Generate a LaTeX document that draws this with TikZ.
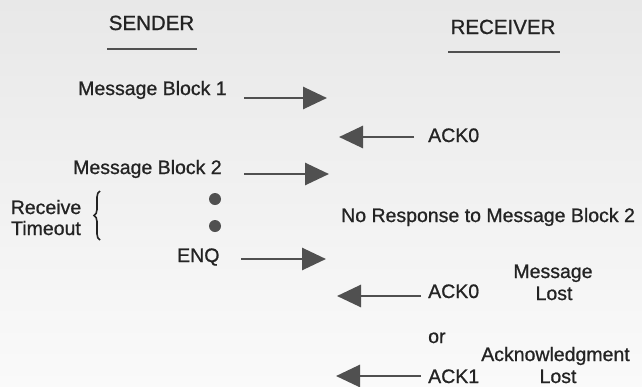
\documentclass[tikz,border=0pt]{standalone}
\usepackage{fontspec}
\setmainfont{Liberation Sans}[FakeBold=0.9]
\usepackage{tikz}
\usetikzlibrary{arrows.meta, positioning, decorations.pathreplacing}
\definecolor{inkgray}{RGB}{35,35,35}
\definecolor{arrowgray}{RGB}{80,80,80}
\definecolor{papertop}{RGB}{232,232,232}
\definecolor{paperbot}{RGB}{250,250,250}
\tikzstyle{heading} = [inner sep=0pt, anchor=base, text=inkgray, font=\fontsize{20.5}{24}\selectfont]
\tikzstyle{msg} = [inner sep=0pt, anchor=base west, text=inkgray, font=\fontsize{19.5}{22}\selectfont]
\tikzstyle{note} = [inner sep=0pt, anchor=base, text=inkgray, font=\fontsize{19.5}{22}\selectfont]
\tikzstyle{underline} = [line width=2.8pt, arrowgray]
\tikzstyle{arrow} = [line width=2.8pt, arrowgray, -{Triangle[length=24pt,width=22pt]}]
\tikzstyle{dot} = [circle, fill=arrowgray, inner sep=0pt, minimum size=12pt]
\tikzstyle{brace} = [line width=1.6pt, inkgray, decorate, decoration={brace, amplitude=6pt}]

\begin{document}
\begin{tikzpicture}[x=1pt, y=-1pt]

\useasboundingbox (0,0) rectangle (642,386);
\shade [top color=papertop, bottom color=paperbot] (0,0) rectangle (642,386);

% Column headings
\node (sender) [heading] at (151.5,30) {SENDER};
\node (receiver) [heading] at (503,34) {RECEIVER};
\draw [underline] (107,49) -- (197,49);
\draw [underline] (448,52) -- (560,52);

% Sender side
\node (mb1) [msg] at (78,95) {Message Block 1};
\node (mb2) [msg] at (73,174) {Message Block 2};
\node (enq) [msg] at (177,262) {ENQ};
\node (dot1) [dot] at (215,199) {};
\node (dot2) [dot] at (215,226) {};
\node (receive) [note] at (46,214) {Receive};
\node (timeout) [note] at (46,235) {Timeout};
\draw [brace] (100,240) -- (100,191);

% Receiver side
\node (ack0a) [msg] at (428,142) {ACK0};
\node (noresp) [msg] at (341,222) {No Response to Message Block 2};
\node (ack0b) [msg] at (428,298) {ACK0};
\node (msglost) [note] at (553,278) {Message};
\node (lost1) [note] at (554,300) {Lost};
\node (or) [msg] at (428,343) {or};
\node (acklost) [note] at (555.5,361) {Acknowledgment};
\node (lost2) [note] at (558,383) {Lost};
\node (ack1) [msg] at (428,383) {ACK1};

% Arrow ends
\coordinate (s1) at (244,98);
\coordinate (r1) at (327,98);
\coordinate (r2) at (414,137);
\coordinate (s2) at (339,137);
\coordinate (s3) at (244,174);
\coordinate (r3) at (329,174);
\coordinate (s4) at (241,259);
\coordinate (r4) at (326,259);
\coordinate (r5) at (421,296);
\coordinate (s5) at (337,296);
\coordinate (r6) at (421,376);
\coordinate (s6) at (336,376);

% Arrows
\draw [arrow] (s1) -- (r1);
\draw [arrow] (r2) -- (s2);
\draw [arrow] (s3) -- (r3);
\draw [arrow] (s4) -- (r4);
\draw [arrow] (r5) -- (s5);
\draw [arrow] (r6) -- (s6);

\end{tikzpicture}
\end{document}
